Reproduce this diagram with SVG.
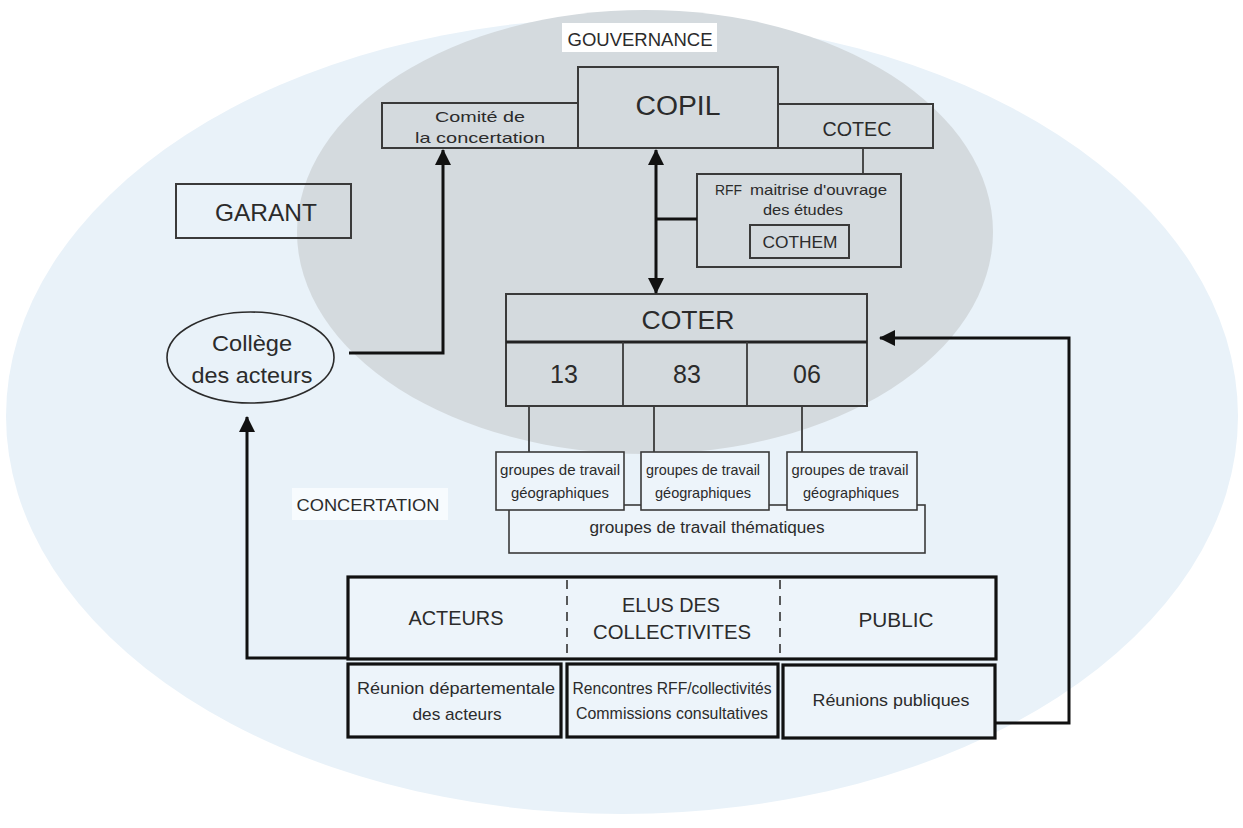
<svg xmlns="http://www.w3.org/2000/svg" width="1243" height="828" viewBox="0 0 1243 828">
<defs>
<style>
text{font-family:"Liberation Sans",Arial,sans-serif;fill:#2b2b2b;text-anchor:middle}
.box{fill:none;stroke:#3a3a3a;stroke-width:2}
.lbox{fill:#edf4fa;stroke:#3a3a3a;stroke-width:1.6}
.thick{fill:#edf4fa;stroke:#111;stroke-width:3.2}
.thin{fill:none;stroke:#3a3a3a;stroke-width:1.8}
.arr{fill:none;stroke:#111;stroke-width:3}
.dash{fill:none;stroke:#333;stroke-width:1.6;stroke-dasharray:9 7}
</style>
<marker id="ah" viewBox="0 0 16 16" refX="15" refY="8" markerWidth="16" markerHeight="16" markerUnits="userSpaceOnUse" orient="auto-start-reverse">
<path d="M0,0 L16,8 L0,16 z" fill="#111"/>
</marker>
</defs>
<rect width="1243" height="828" fill="#ffffff"/>
<ellipse cx="622" cy="416" rx="616" ry="398" fill="#e9f2f9"/>
<ellipse cx="645" cy="232" rx="348" ry="222" fill="#d4dade"/>

<g id="gouvernance-label">
<rect x="562" y="23" width="155" height="29" fill="#ffffff"/>
<text x="640" y="45.5" font-size="18" textLength="145" lengthAdjust="spacingAndGlyphs">GOUVERNANCE</text>
</g>
<g id="concertation-label">
<rect x="292" y="488" width="156" height="32" fill="#f7fbfe"/>
<text x="368" y="511" font-size="17" textLength="143" lengthAdjust="spacingAndGlyphs">CONCERTATION</text>
</g>

<g id="comite">
<rect class="box" x="382" y="103" width="196" height="45"/>
<text x="480" y="122" font-size="15" textLength="90" lengthAdjust="spacingAndGlyphs">Comité de</text>
<text x="480" y="143" font-size="15" textLength="130" lengthAdjust="spacingAndGlyphs">la concertation</text>
</g>
<g id="copil">
<rect class="box" x="578" y="67" width="200" height="81"/>
<text x="678" y="115" font-size="27" textLength="85" lengthAdjust="spacingAndGlyphs">COPIL</text>
</g>
<g id="cotec">
<rect class="box" x="778" y="104" width="155" height="44"/>
<text x="857" y="135.5" font-size="21" textLength="69" lengthAdjust="spacingAndGlyphs">COTEC</text>
</g>
<g id="rff">
<rect class="box" x="697" y="174" width="204" height="93"/>
<text y="195" font-size="15" style="text-anchor:start"><tspan x="715" textLength="27" lengthAdjust="spacingAndGlyphs">RFF</tspan><tspan x="750" textLength="137" lengthAdjust="spacingAndGlyphs">maitrise d'ouvrage</tspan></text>
<text x="803" y="215" font-size="15" textLength="80" lengthAdjust="spacingAndGlyphs">des études</text>
</g>
<g id="cothem">
<rect class="box" x="750" y="225" width="99" height="33"/>
<text x="800" y="248" font-size="16" textLength="75" lengthAdjust="spacingAndGlyphs">COTHEM</text>
</g>
<g id="garant">
<rect class="box" x="176" y="184" width="175" height="54"/>
<text x="266" y="220.5" font-size="24" textLength="102" lengthAdjust="spacingAndGlyphs">GARANT</text>
</g>
<g id="college">
<ellipse cx="250.5" cy="357.5" rx="83.5" ry="45.5" fill="none" stroke="#2b2b2b" stroke-width="1.6"/>
<text x="252" y="351" font-size="22" textLength="80" lengthAdjust="spacingAndGlyphs">Collège</text>
<text x="252" y="383" font-size="22" textLength="121" lengthAdjust="spacingAndGlyphs">des acteurs</text>
</g>
<g id="coter">
<rect class="box" x="506" y="294" width="361" height="112"/>
<line x1="506" y1="342" x2="867" y2="342" stroke="#222" stroke-width="3"/>
<line x1="623" y1="342" x2="623" y2="406" stroke="#3a3a3a" stroke-width="1.8"/>
<line x1="747" y1="342" x2="747" y2="406" stroke="#3a3a3a" stroke-width="1.8"/>
<text x="688" y="329" font-size="25" textLength="93" lengthAdjust="spacingAndGlyphs">COTER</text>
<text x="564" y="383" font-size="25">13</text>
<text x="687" y="383" font-size="25">83</text>
<text x="807" y="383" font-size="25">06</text>
</g>
<g id="thematiques">
<rect class="lbox" x="509" y="505" width="416" height="48"/>
<text x="707" y="533" font-size="16" textLength="235" lengthAdjust="spacingAndGlyphs">groupes de travail thématiques</text>
</g>
<g id="geo-13">
<rect class="lbox" x="496" y="452" width="128" height="58"/>
<text x="560" y="475" font-size="14.5" textLength="120" lengthAdjust="spacingAndGlyphs">groupes de travail</text>
<text x="560" y="498" font-size="14.5" textLength="98" lengthAdjust="spacingAndGlyphs">géographiques</text>
</g>
<g id="geo-83">
<rect class="lbox" x="641" y="452" width="128" height="58"/>
<text x="703" y="475" font-size="14.5" textLength="114" lengthAdjust="spacingAndGlyphs">groupes de travail</text>
<text x="703" y="498" font-size="14.5" textLength="96" lengthAdjust="spacingAndGlyphs">géographiques</text>
</g>
<g id="geo-06">
<rect class="lbox" x="787" y="452" width="130" height="58"/>
<text x="850" y="475" font-size="14.5" textLength="117" lengthAdjust="spacingAndGlyphs">groupes de travail</text>
<text x="851" y="498" font-size="14.5" textLength="96" lengthAdjust="spacingAndGlyphs">géographiques</text>
</g>
<g id="categories">
<rect class="thick" x="348" y="577" width="648" height="82"/>
<line class="dash" x1="567" y1="580" x2="567" y2="657"/>
<line class="dash" x1="780" y1="580" x2="780" y2="657"/>
<text x="456" y="625" font-size="20" textLength="95" lengthAdjust="spacingAndGlyphs">ACTEURS</text>
<text x="671" y="612" font-size="20" textLength="98" lengthAdjust="spacingAndGlyphs">ELUS DES</text>
<text x="672" y="639" font-size="20" textLength="158" lengthAdjust="spacingAndGlyphs">COLLECTIVITES</text>
<text x="896" y="627" font-size="20" textLength="75" lengthAdjust="spacingAndGlyphs">PUBLIC</text>
</g>
<g id="reunion-acteurs">
<rect class="thick" x="348" y="664" width="213" height="73"/>
<text x="456" y="694" font-size="17" textLength="198" lengthAdjust="spacingAndGlyphs">Réunion départementale</text>
<text x="457" y="720" font-size="17" textLength="89" lengthAdjust="spacingAndGlyphs">des acteurs</text>
</g>
<g id="rencontres">
<rect class="thick" x="567" y="664" width="211" height="73"/>
<text x="672" y="694" font-size="16" textLength="199" lengthAdjust="spacingAndGlyphs">Rencontres RFF/collectivités</text>
<text x="672" y="719" font-size="16" textLength="192" lengthAdjust="spacingAndGlyphs">Commissions consultatives</text>
</g>
<g id="reunions-publiques">
<rect class="thick" x="783" y="665" width="212" height="73"/>
<text x="891" y="706" font-size="17" textLength="157" lengthAdjust="spacingAndGlyphs">Réunions publiques</text>
</g>

<g id="connectors">
<path class="arr" d="M349 353 H443 V150" marker-end="url(#ah)"/>
<path class="arr" d="M347 658 H247 V417" marker-end="url(#ah)"/>
<path class="arr" d="M996 723 H1069 V338 H880" marker-end="url(#ah)"/>
<path class="arr" d="M656 150 V293" marker-start="url(#ah)" marker-end="url(#ah)"/>
<path class="arr" d="M656 219 H697"/>
<path class="thin" d="M863 148 V174"/>
<path class="thin" d="M529 406 V452"/>
<path class="thin" d="M654 406 V452"/>
<path class="thin" d="M802 406 V452"/>
</g>
</svg>
